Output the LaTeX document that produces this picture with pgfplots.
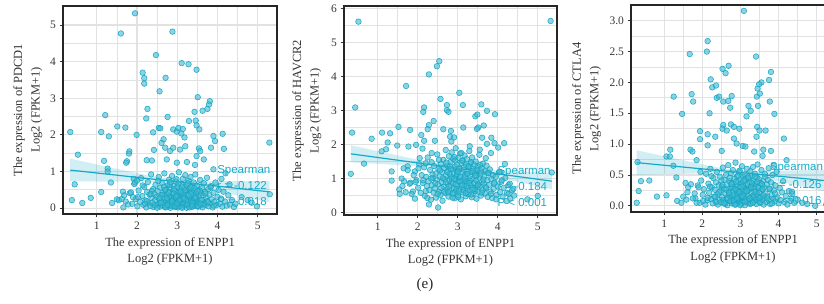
\documentclass[border=0pt]{standalone}
\usepackage{fontspec}
\setmainfont{Liberation Serif}
\setsansfont{Liberation Sans}
\usepackage{pgfplots}
\pgfplotsset{compat=1.18}
\usepackage{pgfplotstable}
\definecolor{ptfill}{RGB}{60,185,208}
\definecolor{ptedge}{RGB}{22,165,196}
\definecolor{fitc}{RGB}{22,170,200}
\definecolor{gridc}{RGB}{226,226,226}
\definecolor{tickc}{RGB}{55,55,55}

% shared cluster: ENPP1, PDCD1, HAVCR2, CTLA4
\pgfplotstableread{
x a b c
1.82 0.41 0.88 0.12
1.88 0.12 0.62 0.33
1.93 0.66 1.21 0.05
1.97 0.25 0.95 0.41
2.01 0.05 0.73 0.18
2.04 0.48 1.42 0.27
2.08 0.17 0.58 0.02
2.10 0.82 1.10 0.52
2.13 0.33 0.87 0.09
2.16 0.09 1.33 0.36
2.18 0.58 0.49 0.21
2.21 0.21 1.05 0.60
2.23 0.02 0.78 0.11
2.25 0.44 1.62 0.30
2.27 0.71 0.92 0.04
2.29 0.13 0.66 0.45
2.31 0.37 1.25 0.15
2.33 0.06 0.38 0.26
2.35 0.92 1.48 0.07
2.36 0.28 0.81 0.38
2.38 0.15 1.02 0.55
2.40 0.52 0.59 0.19
2.41 0.03 1.37 0.02
2.43 0.39 0.71 0.33
2.45 0.22 1.15 0.10
2.46 0.64 0.44 0.47
2.48 0.08 0.97 0.24
2.49 0.31 1.71 0.06
2.51 0.47 0.83 0.31
2.52 0.11 1.28 0.14
2.54 0.85 0.61 0.62
2.55 0.26 1.06 0.09
2.57 0.04 0.52 0.28
2.58 0.56 1.44 0.42
2.60 0.18 0.90 0.03
2.61 0.35 1.19 0.20
2.62 0.69 0.35 0.50
2.64 0.07 1.55 0.12
2.65 0.42 0.76 0.35
2.66 0.14 1.31 0.01
2.68 0.95 0.98 0.66
2.69 0.29 0.57 0.17
2.70 0.02 1.84 0.23
2.71 0.51 1.09 0.40
2.73 0.20 0.68 0.08
2.74 0.38 1.38 0.29
2.75 0.10 0.85 0.53
2.76 0.62 1.23 0.13
2.77 0.24 0.47 0.04
2.78 0.05 1.66 0.37
2.79 0.45 0.94 0.22
2.80 0.78 1.13 0.58
2.81 0.16 0.63 0.10
2.82 0.33 1.49 0.31
2.83 0.01 0.80 0.05
2.84 0.55 1.04 0.44
2.85 0.27 1.77 0.16
2.86 0.12 0.55 0.27
2.87 0.88 1.27 0.70
2.88 0.40 0.88 0.02
2.89 0.19 1.58 0.34
2.90 0.06 0.72 0.19
2.91 0.60 1.17 0.48
2.92 0.31 0.42 0.09
2.93 0.14 1.35 0.25
2.94 0.48 0.96 0.39
2.95 0.03 1.89 0.06
2.96 0.73 0.65 0.55
2.97 0.23 1.08 0.14
2.98 0.09 1.42 0.30
2.99 0.36 0.78 0.08
3.00 0.57 1.22 0.43
3.01 0.17 0.51 0.20
3.02 0.02 1.61 0.03
3.03 0.44 0.91 0.36
3.04 0.98 1.30 0.64
3.05 0.26 0.69 0.12
3.06 0.11 1.74 0.26
3.07 0.50 1.01 0.47
3.08 0.32 0.39 0.07
3.09 0.07 1.46 0.32
3.10 0.66 0.84 0.18
3.11 0.21 1.19 0.51
3.12 0.41 0.60 0.01
3.13 0.04 1.53 0.29
3.14 0.80 0.97 0.41
3.15 0.15 1.26 0.11
3.16 0.35 0.74 0.23
3.17 0.54 1.68 0.60
3.18 0.08 0.86 0.05
3.19 0.28 1.11 0.35
3.20 0.90 0.48 0.16
3.21 0.13 1.39 0.27
3.22 0.46 0.93 0.45
3.23 0.01 1.57 0.09
3.24 0.63 0.70 0.38
3.25 0.24 1.14 0.13
3.26 0.38 0.54 0.56
3.27 0.10 1.34 0.04
3.28 0.75 0.89 0.31
3.29 0.19 1.81 0.21
3.30 0.53 0.63 0.49
3.31 0.05 1.07 0.10
3.32 0.30 1.45 0.34
3.33 0.85 0.82 0.63
3.34 0.16 1.20 0.17
3.35 0.43 0.45 0.40
3.36 0.03 1.62 0.07
3.37 0.58 0.99 0.28
3.38 0.22 0.73 0.52
3.39 0.36 1.29 0.12
3.40 0.11 0.57 0.36
3.41 0.70 1.41 0.24
3.42 0.27 0.87 0.03
3.43 0.47 1.16 0.46
3.44 0.06 0.64 0.19
3.45 0.92 1.50 0.67
3.46 0.18 0.95 0.14
3.47 0.39 0.41 0.32
3.48 0.12 1.25 0.08
3.49 0.61 0.79 0.43
3.50 0.25 1.36 0.22
3.52 0.04 0.61 0.05
3.53 0.49 1.03 0.37
3.54 0.33 1.70 0.15
3.55 0.15 0.76 0.58
3.57 0.77 1.12 0.26
3.58 0.08 0.50 0.10
3.59 0.41 1.31 0.40
3.61 0.21 0.90 0.02
3.62 0.55 0.67 0.30
3.63 0.02 1.44 0.13
3.65 0.34 0.85 0.47
3.66 0.68 1.06 0.20
3.68 0.14 0.56 0.06
3.69 0.45 1.22 0.35
3.71 0.09 0.72 0.15
3.72 0.29 1.38 0.42
3.74 0.83 0.95 0.61
3.75 0.19 0.46 0.09
3.77 0.52 1.15 0.27
3.78 0.05 0.81 0.03
3.80 0.37 1.27 0.38
3.82 0.13 0.62 0.18
3.84 0.60 0.99 0.50
3.86 0.24 0.43 0.11
3.88 0.02 1.10 0.25
3.90 0.42 0.70 0.07
3.92 0.17 0.88 0.33
3.95 0.70 1.05 0.55
3.97 0.08 0.52 0.14
4.00 0.31 0.77 0.04
4.03 0.50 1.18 0.29
4.06 0.12 0.60 0.09
4.09 0.26 0.91 0.22
4.12 0.04 0.47 0.40
4.15 0.45 0.73 0.06
4.19 0.18 1.02 0.16
4.23 0.07 0.58 0.02
4.27 0.35 0.81 0.24
4.31 0.10 0.42 0.08
4.36 0.22 0.66 0.19
4.41 0.03 0.50 0.05
2.02 0.30 1.30 0.08
2.14 0.62 0.95 0.13
2.24 0.19 0.43 0.48
2.37 0.47 1.12 0.06
2.44 0.09 0.86 0.22
2.53 0.74 1.55 0.34
2.59 0.14 0.72 0.05
2.63 0.36 1.01 0.26
2.67 0.58 0.62 0.12
2.72 0.03 1.47 0.45
2.74 0.27 1.19 0.08
2.78 0.42 0.77 0.31
2.81 0.64 1.36 0.18
2.85 0.07 1.00 0.02
2.88 0.22 0.58 0.39
2.92 0.52 1.63 0.11
2.95 0.13 0.83 0.24
2.98 0.79 1.14 0.57
3.01 0.33 0.46 0.15
3.04 0.05 1.28 0.05
3.07 0.25 0.92 0.33
3.11 0.59 1.52 0.21
3.14 0.11 0.66 0.44
3.18 0.43 1.04 0.08
3.22 0.20 0.78 0.26
3.26 0.68 1.37 0.03
3.30 0.02 0.94 0.37
3.34 0.38 0.53 0.14
3.38 0.15 1.23 0.47
3.42 0.55 0.69 0.10
3.47 0.29 1.09 0.29
3.51 0.06 0.84 0.06
3.56 0.48 1.40 0.35
3.60 0.23 0.59 0.17
3.64 0.10 0.97 0.52
3.70 0.40 0.75 0.12
3.76 0.16 1.17 0.28
3.83 0.57 0.55 0.04
3.91 0.07 0.86 0.20
2.20 0.12 0.63 0.31
2.34 0.38 1.00 0.15
2.50 0.01 0.55 0.41
2.56 0.28 1.24 0.04
2.70 0.50 0.89 0.21
2.76 0.09 0.60 0.35
2.83 0.71 1.29 0.09
2.87 0.18 0.44 0.27
2.91 0.40 0.99 0.13
2.94 0.05 1.53 0.49
2.97 0.32 0.70 0.22
3.00 0.13 1.20 0.01
3.03 0.67 0.63 0.31
3.06 0.21 1.06 0.16
3.09 0.45 1.75 0.41
3.12 0.01 0.80 0.07
3.16 0.26 1.33 0.24
3.20 0.49 0.57 0.46
3.24 0.10 1.13 0.12
3.28 0.35 0.87 0.30
3.33 0.57 1.48 0.05
3.37 0.07 0.68 0.23
3.44 0.29 1.08 0.39
3.50 0.46 0.80 0.13
3.58 0.12 1.21 0.27
}\cluster

\pgfplotstableread{
x y
1.95 5.32
1.60 4.77
2.88 4.82
2.47 4.18
3.11 3.96
3.28 3.93
3.48 3.78
2.14 3.70
2.18 3.55
2.18 3.40
2.71 3.56
2.56 3.19
3.51 3.03
3.81 2.92
3.79 2.83
3.75 2.71
3.63 2.66
3.43 2.63
2.26 2.71
2.23 2.45
2.76 2.49
1.21 2.54
3.29 2.38
3.46 2.39
3.48 2.26
1.51 2.23
1.71 2.20
0.34 2.08
1.11 2.08
1.30 1.96
1.99 2.00
2.54 2.19
2.58 2.18
2.40 2.07
2.90 2.15
2.99 2.09
3.03 2.19
3.14 2.16
3.18 1.93
3.10 2.04
3.55 2.15
3.90 1.97
4.13 2.03
3.94 1.83
3.84 1.65
3.54 1.63
3.57 1.56
4.16 1.62
5.29 1.79
0.53 1.46
1.81 1.55
1.80 1.49
1.75 1.28
1.73 1.24
1.18 1.29
1.27 1.08
1.27 1.00
1.35 0.70
0.45 0.65
0.38 0.22
0.64 0.14
0.85 0.28
1.11 0.44
1.38 0.14
1.50 0.24
1.65 0.45
1.66 0.02
2.42 1.59
2.66 1.88
2.61 1.78
2.70 1.65
2.82 1.56
2.90 1.65
3.07 1.60
3.20 1.69
3.48 1.42
3.66 1.33
3.90 1.06
2.37 1.30
2.24 1.31
2.74 1.33
2.99 1.24
3.24 1.26
3.44 1.18
1.55 0.22
1.62 0.25
1.72 0.18
1.78 0.10
1.85 0.43
1.92 0.80
1.95 0.70
2.00 0.75
1.90 0.30
1.68 0.35
4.45 0.12
4.60 0.30
4.75 0.22
4.98 0.05
5.30 0.38
4.85 0.15
4.30 0.65
4.20 0.95
4.10 0.80
}\pA

\pgfplotstableread{
x y
0.52 5.61
5.32 5.63
0.44 3.09
0.36 2.35
0.33 1.14
0.66 1.44
0.85 2.17
1.11 2.35
1.31 2.33
1.25 2.06
1.21 1.86
1.10 1.80
1.49 1.97
1.52 2.52
1.71 3.72
1.81 2.43
1.77 1.94
1.96 1.99
1.35 1.21
1.35 0.94
1.54 0.68
1.66 0.92
1.75 1.36
1.93 0.41
2.28 4.06
2.48 4.30
2.54 4.45
2.16 3.09
2.14 2.96
2.57 3.34
2.73 3.01
3.04 3.52
3.13 3.16
2.73 3.16
2.77 2.96
3.44 2.83
3.49 2.88
3.59 3.18
3.73 2.99
3.93 2.89
3.65 2.56
3.51 2.50
3.48 2.46
3.14 2.50
2.64 2.45
2.83 2.40
2.40 2.69
2.28 2.57
2.25 2.45
2.09 2.28
2.16 2.11
2.43 2.11
2.81 2.23
2.91 2.21
2.84 2.09
3.61 2.20
3.84 2.20
3.92 2.04
3.73 2.02
3.83 1.75
4.01 1.91
4.16 2.04
4.18 1.43
3.96 0.39
4.27 0.55
4.22 0.34
4.39 0.70
4.74 0.39
5.00 0.49
5.35 1.18
2.51 0.15
2.28 0.24
1.55 0.55
1.62 0.78
1.70 0.60
1.80 0.85
1.85 0.55
1.90 1.10
1.75 1.25
1.95 0.90
1.60 1.00
1.65 1.30
2.05 1.60
2.12 1.88
2.35 1.75
2.20 1.45
3.30 1.95
3.55 1.85
3.70 1.60
4.05 1.20
4.10 0.95
4.30 0.85
}\pB

\pgfplotstableread{
x y
3.09 3.16
2.14 2.67
1.67 2.46
2.12 2.50
3.41 2.42
2.69 2.27
2.53 2.22
2.61 2.15
3.80 2.17
3.75 2.04
3.55 2.00
3.49 1.97
3.45 1.90
2.22 2.05
2.26 1.92
2.36 1.95
1.25 1.77
1.72 1.81
1.76 1.69
2.38 1.75
2.44 1.77
2.55 1.69
2.77 1.78
2.68 1.70
2.73 1.59
3.43 1.77
3.51 1.82
3.77 1.69
3.46 1.62
3.21 1.62
3.27 1.54
3.16 1.45
3.89 1.49
1.47 1.49
2.19 1.50
1.06 0.80
1.15 0.80
1.16 0.91
1.24 0.65
1.32 0.46
0.30 0.71
0.39 0.40
0.61 0.41
0.33 0.24
0.28 0.05
0.81 0.15
1.06 0.17
1.34 0.08
1.56 0.37
1.61 0.22
1.69 0.91
1.74 0.88
1.85 0.74
1.94 1.21
1.94 1.08
2.14 1.16
2.14 0.98
2.34 1.12
2.51 0.89
2.55 1.31
2.53 1.25
2.64 1.22
2.75 1.32
2.83 1.28
2.83 1.09
2.90 1.01
2.97 1.25
3.06 0.97
3.13 0.96
3.36 0.88
3.44 1.28
3.50 1.22
3.66 1.22
3.42 1.12
3.60 0.91
3.58 0.81
3.80 0.89
3.88 0.65
4.14 1.09
4.21 0.74
4.75 0.03
4.96 0.00
4.35 0.23
4.34 0.12
1.70 0.35
1.75 0.12
1.80 0.20
1.85 0.05
1.90 0.30
1.95 0.55
1.58 0.10
1.63 0.30
1.45 0.05
1.50 0.15
4.50 0.10
4.62 0.05
5.25 0.02
}\pC

\tikzset{
  stxt/.style={anchor=west, font=\sffamily\fontsize{11.5}{13}\selectfont, text=fitc, text height=1.6ex, text depth=0.3ex, inner sep=0pt},
}
\pgfplotsset{
  panel/.style={
    scale only axis, clip=false,
    axis line style={draw=black!85, line width=1.4pt},
    tick align=outside, major tick length=3.5pt, minor tick length=0pt,
    tick style={draw=tickc, line width=0.9pt},
    xtick={1,2,3,4,5}, minor x tick num=1, minor y tick num=1,
    xtick pos=bottom, ytick pos=left,
    grid=both,
    major grid style={draw=gridc, line width=1.2pt},
    minor grid style={draw=gridc, line width=0.8pt},
    ticklabel style={font=\fontsize{11.5}{13}\selectfont, text=tickc},
    xticklabel style={yshift=-1pt},
    /pgf/number format/assume math mode=true,
    xlabel={The expression of ENPP1\\Log2 (FPKM+1)},
    every axis x label/.style={at={(axis description cs:0.5,-0.095)}, anchor=north, align=center, font=\fontsize{12.5}{16.5}\selectfont, text=black!80},
    every axis y label/.style={at={(axis description cs:-0.08,0.5)}, rotate=90, anchor=south, align=center, font=\fontsize{12.5}{17.5}\selectfont, text=black!80},
  },
  pts/.style={only marks, mark=*, mark size=2.8pt, mark options={fill=ptfill, fill opacity=0.6, draw=ptedge, draw opacity=0.9, line width=0.6pt}},
  band/.style={fill=fitc, fill opacity=0.2, draw=none},
  fitl/.style={draw=fitc, line width=1.2pt, no marks},
}

\begin{document}
\begin{tikzpicture}
\useasboundingbox (0,0) rectangle (824pt,304pt);

% ---------- panel 1: PDCD1 ----------
\begin{axis}[panel, at={(63pt,90pt)}, anchor=south west, width=214pt, height=208pt,
  xmin=0.16, xmax=5.48, ymin=-0.16, ymax=5.52, ytick={0,1,2,3,4,5},
  ylabel={The expression of PDCD1\\Log2 (FPKM+1)}]
\addplot[band] coordinates {(0.34,1.35) (0.8,1.24) (1.3,1.12) (1.8,1.005) (2.3,0.891) (2.9,0.782) (3.5,0.747) (4.0,0.741) (4.5,0.738) (5.0,0.736) (5.29,0.735)
  (5.29,0.155) (5.0,0.224) (4.5,0.342) (4.0,0.459) (3.5,0.573) (2.9,0.682) (2.3,0.717) (1.8,0.723) (1.3,0.726) (0.8,0.728) (0.34,0.73)} -- cycle;
\addplot[pts] table[x=x, y=a] {\cluster};
\addplot[pts] table[x=x, y=y] {\pA};
\addplot[fitl] coordinates {(0.34,1.039) (5.29,0.445)};
\node[stxt] at (rel axis cs:0.72,0.21) {Spearman};
\node[stxt] at (rel axis cs:0.72,0.13) {r = -0.122};
\node[stxt] at (rel axis cs:0.72,0.054) {P = 0.018};
\end{axis}

% ---------- panel 2: HAVCR2 ----------
\begin{axis}[panel, at={(344pt,89pt)}, anchor=south west, width=213pt, height=209pt,
  xmin=0.16, xmax=5.48, ymin=-0.07, ymax=6.07, ytick={0,1,2,3,4,5,6},
  every axis y label/.append style={at={(axis description cs:-0.09,0.5)}},
  ylabel={The expression of HAVCR2\\Log2 (FPKM+1)}]
\addplot[band] coordinates {(0.33,1.977) (0.8,1.858) (1.3,1.731) (1.8,1.605) (2.3,1.482) (2.9,1.356) (3.5,1.29) (4.0,1.253) (4.5,1.219) (5.0,1.186) (5.35,1.163)
  (5.35,0.685) (5.0,0.774) (4.5,0.901) (4.0,1.027) (3.5,1.15) (2.9,1.276) (2.3,1.342) (1.8,1.379) (1.3,1.413) (0.8,1.446) (0.33,1.477)} -- cycle;
\addplot[pts] table[x=x, y=b] {\cluster};
\addplot[pts] table[x=x, y=y] {\pB};
\addplot[fitl] coordinates {(0.33,1.727) (5.35,0.924)};
\node[stxt] at (rel axis cs:0.72,0.21) {Spearman};
\node[stxt] at (rel axis cs:0.72,0.13) {r = -0.184};
\node[stxt] at (rel axis cs:0.72,0.054) {P < 0.001};
\end{axis}

% ---------- panel 3: CTLA4 ----------
\begin{axis}[panel, at={(631pt,92pt)}, anchor=south west, width=204pt, height=207pt,
  xmin=0.13, xmax=5.48, ymin=-0.10, ymax=3.255, ytick={0,0.5,1,1.5,2,2.5,3},
  yticklabel style={/pgf/number format/fixed, /pgf/number format/fixed zerofill, /pgf/number format/precision=1},
  every axis y label/.append style={at={(axis description cs:-0.13,0.5)}},
  ylabel={The expression of CTLA4\\Log2 (FPKM+1)}]
\addplot[band] coordinates {(0.28,0.900) (0.8,0.831) (1.3,0.764) (1.8,0.698) (2.3,0.633) (2.9,0.571) (3.5,0.562) (4.0,0.568) (4.5,0.576) (5.0,0.583) (5.3,0.586)
  (5.3,0.222) (5.0,0.261) (4.5,0.328) (4.0,0.394) (3.5,0.458) (2.9,0.521) (2.3,0.529) (1.8,0.524) (1.3,0.516) (0.8,0.509) (0.28,0.500)} -- cycle;
\addplot[pts] table[x=x, y=c] {\cluster};
\addplot[pts] table[x=x, y=y] {\pC};
\addplot[fitl] coordinates {(0.28,0.700) (5.3,0.404)};
\node[stxt] at (rel axis cs:0.68,0.213) {Spearman};
\node[stxt] at (rel axis cs:0.69,0.13) {r = -0.126};
\node[stxt] at (rel axis cs:0.69,0.053) {P = 0.016};
\end{axis}

\node[font=\fontsize{15}{18}\selectfont, text=black!85] at (425pt,19pt) {(e)};
\end{tikzpicture}
\end{document}
